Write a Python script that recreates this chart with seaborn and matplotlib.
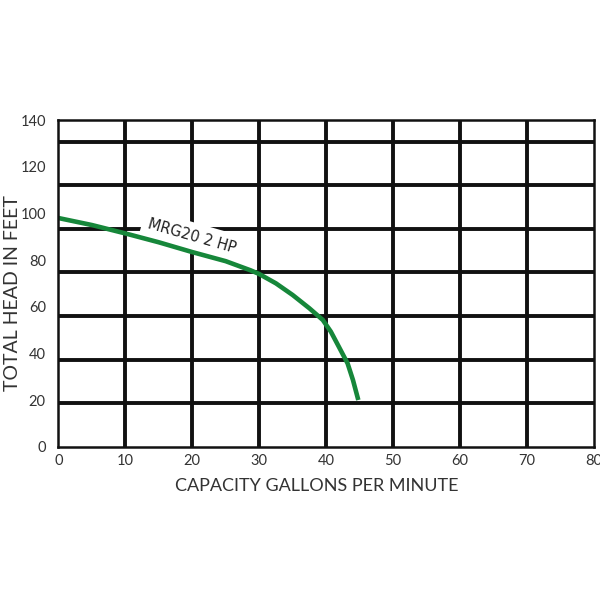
import matplotlib
matplotlib.use('Agg')
import matplotlib.pyplot as plt
import seaborn as sns
import pandas as pd

# Curva da bomba MRG20 2 HP
capacity_gpm = [0, 5, 10, 15, 20, 25, 28.7, 30, 32.5, 35, 37.5, 39.5, 40.7, 41.9, 43.2, 44.0, 44.8]
head_ft = [98, 95, 91.4, 87.6, 83.4, 79.5, 75.6, 74, 70, 65, 59.3, 54.3, 49.3, 42.8, 35.7, 28.6, 20.0]

x_ticks = [0, 10, 20, 30, 40, 50, 60, 70, 80]
y_ticks = [0, 20, 40, 60, 80, 100, 120, 140]
# linhas horizontais da grade (não batem com os rótulos no original)
h_grid = [18.67, 37.33, 56.0, 74.67, 93.33, 112.0, 130.67]
v_grid = [10, 20, 30, 40, 50, 60, 70]

curve_label = 'MRG20 2 HP'
x_label = 'CAPACITY GALLONS PER MINUTE'
y_label = 'TOTAL HEAD IN FEET'

df = pd.DataFrame({'gpm': capacity_gpm, 'head': head_ft})

sns.set_theme(style='white')
plt.rcParams['font.family'] = ['Lato', 'DejaVu Sans']

fig = plt.figure(figsize=(6, 6), dpi=100)
ax = fig.add_axes([0.0972, 0.2555, 0.8928, 0.5445])

for y in h_grid:
    ax.axhline(y, color='#111111', lw=2.8, zorder=1)
for x in v_grid:
    ax.axvline(x, color='#111111', lw=2.8, zorder=1)

sns.lineplot(data=df, x='gpm', y='head', color='#16873a', lw=3.3, ax=ax,
             zorder=4, solid_capstyle='butt', solid_joinstyle='round')

ax.text(20.0, 90.2, curve_label, rotation=-16, ha='center', va='center',
        fontsize=10.5, color='#222222', family=['DejaVu Sans'],
        bbox=dict(facecolor='white', edgecolor='none', pad=4.5), zorder=3)

ax.set_xlim(0, 80)
ax.set_ylim(0, 140)
ax.set_xticks(x_ticks)
ax.set_yticks(y_ticks)
ax.tick_params(axis='both', length=0, labelsize=10.5, labelcolor='#333333')
ax.tick_params(axis='x', pad=5)
ax.tick_params(axis='y', pad=9)

for s in ax.spines.values():
    s.set_color('#111111')
    s.set_linewidth(1.8)
    s.set_zorder(5)

ax.set_xlabel(x_label, fontsize=13, color='#333333')
ax.set_ylabel(y_label, fontsize=14, color='#333333')
ax.xaxis.set_label_coords(0.483, -0.095)
ax.yaxis.set_label_coords(-0.07, 0.47)
ax.grid(False)

fig.savefig('out.png', dpi=100, facecolor='white')
